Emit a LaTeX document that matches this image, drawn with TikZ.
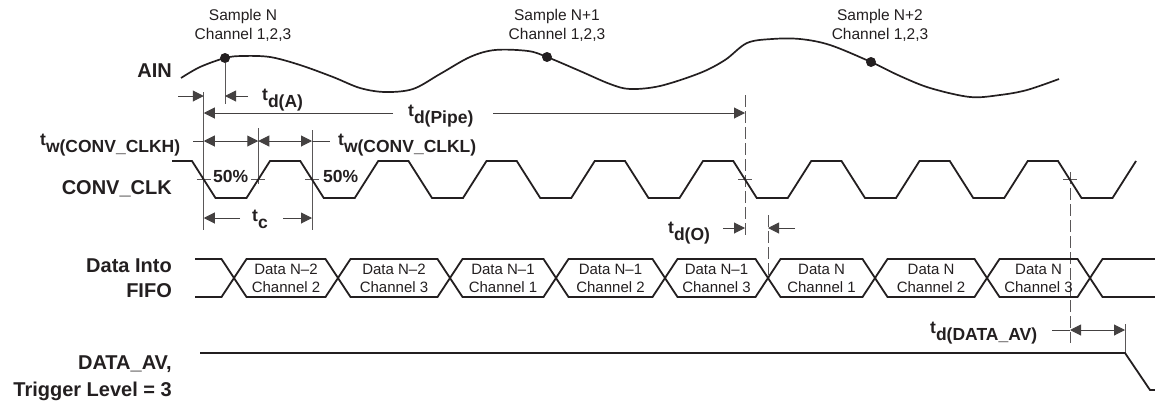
\documentclass[tikz,border=0pt]{standalone}
\usepackage{fontspec}
\setmainfont{Liberation Sans}
\usetikzlibrary{arrows.meta}
\definecolor{ink}{HTML}{231F20}
\newcommand{\tlab}[2]{#1\raisebox{-7pt}{#2}}
\begin{document}
\begin{tikzpicture}[x=1pt,y=-1pt,
  sig/.style={line width=1.8pt, draw=ink, line join=miter},
  dim/.style={line width=1pt, draw=ink!85},
  refl/.style={line width=0.8pt, draw=ink!75},
  refdash/.style={refl, dash pattern=on 12pt off 4pt},
  arr/.style={dim, -{Triangle[length=11pt,width=11pt]}},
  arrr/.style={dim, {Triangle[length=11pt,width=11pt]}-{Triangle[length=11pt,width=11pt]}},
  big/.style={font=\fontsize{20}{25}\selectfont\bfseries, text=ink, inner sep=0pt, align=right},
  tim/.style={font=\fontsize{17.5}{20}\selectfont\bfseries, text=ink, inner sep=0pt, anchor=base west},
  small/.style={font=\fontsize{15.5}{19}\selectfont, text=ink, inner sep=0pt, align=center},
  cell/.style={font=\fontsize{15}{17.5}\selectfont, text=ink, inner sep=0pt, align=center},
  dot/.style={circle, fill=ink, minimum size=10pt, inner sep=0pt}
]
\useasboundingbox (0,0) rectangle (1155,410);

% ---------- signal names ----------
\node[big, anchor=east] (ain) at (172,71) {AIN};
\node[big, anchor=east] (clk) at (172,189) {CONV\_CLK};
\node[big, anchor=east] (fifo) at (172,278) {Data Into\\FIFO};
\node[big, anchor=east] (dav) at (172,378) {DATA\_AV,\\[2pt]Trigger Level = 3};

% ---------- AIN ----------
\draw[sig, line width=1.7pt] plot[smooth, tension=0.55] coordinates {
 (181,78) (200,67) (225,58) (242,56) (270,57) (300,65) (333,77) (360,88) (385,92)
 (413,89) (440,74) (470,57) (495,50) (528,51) (547,57) (580,71) (610,84) (630,89)
 (660,86) (700,73) (725,60) (747,43) (772,39) (800,39) (830,45) (871,62) (900,76)
 (930,88) (970,97) (1000,95) (1027,90) (1059,79)};
\node[dot] (s0) at (225,58) {};
\node[dot] (s1) at (547,57) {};
\node[dot] (s2) at (871,62) {};
\node[small] (sn0) at (243,25) {Sample N\\Channel 1,2,3};
\node[small] (sn1) at (557,25) {Sample N+1\\Channel 1,2,3};
\node[small] (sn2) at (880,25) {Sample N+2\\Channel 1,2,3};

% ---------- reference lines ----------
\coordinate (s0b) at (225,104);
\coordinate (vat) at (203.75,92);  \coordinate (vab) at (203.75,230);
\coordinate (vbt) at (258.25,128); \coordinate (vbb) at (258.25,184);
\coordinate (vct) at (312,130);    \coordinate (vcb) at (312,230);
\coordinate (vdt) at (745,95);     \coordinate (vdb) at (745,236);
\coordinate (vet) at (768,215);    \coordinate (veb) at (768,278);
\coordinate (vft) at (1070,172);   \coordinate (vfb) at (1070,343);
\coordinate (vgt) at (1125,324);   \coordinate (vgb) at (1125,353);
\draw[refl] (s0) -- (s0b);
\draw[refl] (vat) -- (vab);
\draw[refl] (vbt) -- (vbb);
\draw[refl] (vct) -- (vcb);
\draw[refdash] (vdt) -- (vdb);
\draw[refdash] (vet) -- (veb);
\draw[refdash] (vft) -- (vfb);
\draw[refl] (vgt) -- (vgb);

% 50% ticks
\foreach \x in {203.75,258.25,312,745,1070}
  \draw[refl] (\x-7,179.5) -- (\x+7,179.5);

% ---------- CONV_CLK ----------
\draw[sig] (172,161) \foreach \k in {0,...,8} {
  -- ({192+\k*108.25},161) -- ({215.5+\k*108.25},198)
  -- ({246.5+\k*108.25},198) -- ({270+\k*108.25},161) };
\node[tim] (p1) at (213,182) {50\%};
\node[tim] (p2) at (323,182) {50\%};

% ---------- timing labels ----------
\node[tim] (tdA) at (262,100) {\tlab{t}{d(A)}};
\node[tim] (tdP) at (408,116) {\tlab{t}{d(Pipe)}};
\node[tim] (twH) at (40,145) {\tlab{t}{w(CONV\_CLKH)}};
\node[tim] (twL) at (338,145) {\tlab{t}{w(CONV\_CLKL)}};
\node[tim] (tc) at (252,221) {\tlab{t}{c}};
\node[tim] (tdO) at (668,233) {\tlab{t}{d(O)}};
\node[tim] (tdD) at (930,333) {\tlab{t}{d(DATA\_AV)}};

% ---------- dimension arrows ----------
\coordinate (a1) at (178,96);  \coordinate (a1e) at (203.75,96);
\coordinate (a2) at (248,96);  \coordinate (a2e) at (225,96);
\draw[arr] (a1) -- (a1e);
\draw[arr] (a2) -- (a2e);

\coordinate (p1s) at (393,113); \coordinate (p1e) at (203.75,113);
\coordinate (p2s) at (493,113); \coordinate (p2e) at (745,113);
\draw[arr] (p1s) -- (p1e);
\draw[arr] (p2s) -- (p2e);

\coordinate (w0) at (193,141); \coordinate (w1) at (203.75,141);
\coordinate (w2) at (258.25,141); \coordinate (w3) at (312,141);
\coordinate (w4) at (330,141);
\draw[dim] (w0) -- (w1);
\draw[arrr] (w1) -- (w2);
\draw[arrr] (w2) -- (w3);
\draw[dim] (w3) -- (w4);

\coordinate (c1s) at (240,218); \coordinate (c1e) at (203.75,218);
\coordinate (c2s) at (283,218); \coordinate (c2e) at (312,218);
\draw[arr] (c1s) -- (c1e);
\draw[arr] (c2s) -- (c2e);

\coordinate (o1s) at (723,228); \coordinate (o1e) at (745,228);
\coordinate (o2s) at (795,228); \coordinate (o2e) at (768,228);
\draw[arr] (o1s) -- (o1e);
\draw[arr] (o2s) -- (o2e);

\coordinate (d0) at (1052,330); \coordinate (d1) at (1070,330);
\coordinate (d2) at (1125,330);
\draw[dim] (d0) -- (d1);
\draw[arrr] (d1) -- (d2);

% ---------- Data into FIFO ----------
\draw[sig] (195,259) -- (221.5,259) -- (246.5,297) -- (325.5,297) -- (350.5,259)
  -- (437.5,259) -- (462.5,297) -- (543.5,297) -- (568.5,259) -- (652.5,259)
  -- (677.5,297) -- (755.5,297) -- (780.5,259) -- (862.5,259) -- (887.5,297)
  -- (974.5,297) -- (999.5,259) -- (1077.5,259) -- (1102.5,297) -- (1155,297);
\draw[sig] (195,297) -- (221.5,297) -- (246.5,259) -- (325.5,259) -- (350.5,297)
  -- (437.5,297) -- (462.5,259) -- (543.5,259) -- (568.5,297) -- (652.5,297)
  -- (677.5,259) -- (755.5,259) -- (780.5,297) -- (862.5,297) -- (887.5,259)
  -- (974.5,259) -- (999.5,297) -- (1077.5,297) -- (1102.5,259) -- (1155,259);
\node[cell] (c0) at (286,278.5) {Data N--2\\Channel 2};
\node[cell] (c1) at (394,278.5) {Data N--2\\Channel 3};
\node[cell] (c2) at (503,278.5) {Data N--1\\Channel 1};
\node[cell] (c3) at (610.5,278.5) {Data N--1\\Channel 2};
\node[cell] (c4) at (716.5,278.5) {Data N--1\\Channel 3};
\node[cell] (c5) at (821.5,278.5) {Data N\\Channel 1};
\node[cell] (c6) at (931,278.5) {Data N\\Channel 2};
\node[cell] (c7) at (1038.5,278.5) {Data N\\Channel 3};

% ---------- DATA_AV ----------
\draw[sig] (200,353) -- (vgb) -- (1150,390) -- (1155,390);
\end{tikzpicture}
\end{document}
